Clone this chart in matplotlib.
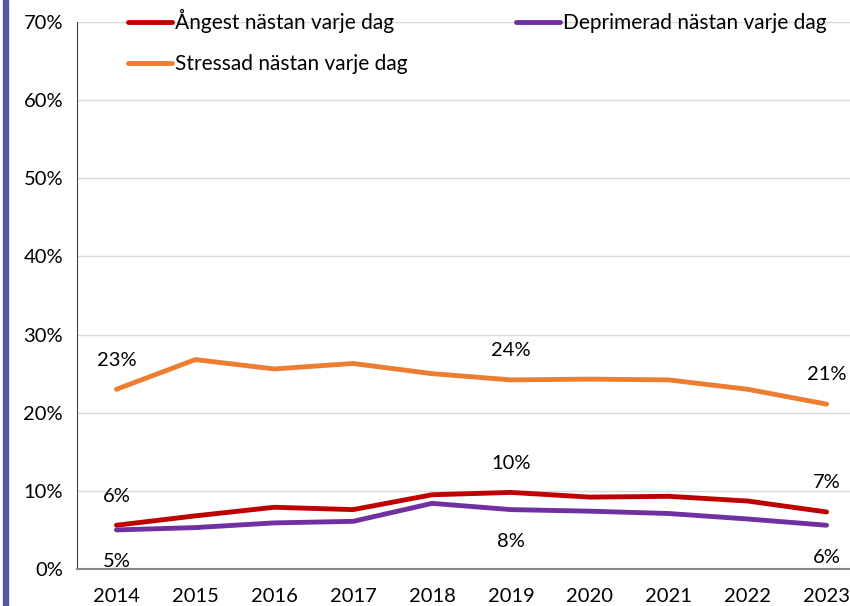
import matplotlib.pyplot as plt
from matplotlib.patches import Rectangle

# Data
years = ['2014', '2015', '2016', '2017', '2018', '2019', '2020', '2021', '2022', '2023']
angest = [5.6, 6.8, 7.9, 7.6, 9.5, 9.8, 9.2, 9.3, 8.7, 7.3]
deprimerad = [5.0, 5.3, 5.9, 6.1, 8.4, 7.6, 7.4, 7.1, 6.4, 5.6]
stressad = [23.0, 26.8, 25.6, 26.3, 25.0, 24.2, 24.3, 24.2, 23.0, 21.1]
labelled = [0, 5, 9]

plt.rcParams['font.family'] = ['Lato', 'DejaVu Sans']

fig = plt.figure(figsize=(8.5, 6.06), dpi=100)
ax = fig.add_axes([77 / 850, 37 / 606, 789 / 850, 547 / 606])

# Left decoration bar
fig.patches.append(Rectangle((3 / 850, 0), 5 / 850, 1, transform=fig.transFigure,
                             color='#5558a0', zorder=5))

x = range(len(years))
l1, = ax.plot(x, angest, color='#c00000', lw=3.5, solid_capstyle='round')
l2, = ax.plot(x, deprimerad, color='#7030a0', lw=3.5, solid_capstyle='round')
l3, = ax.plot(x, stressad, color='#ed7d31', lw=3.5, solid_capstyle='round')

# Data labels
for i in labelled:
    ax.annotate(f'{stressad[i]:.0f}%', (i, stressad[i]), xytext=(0, 21),
                textcoords='offset points', ha='center', va='center', fontsize=14.5)
    ax.annotate(f'{angest[i]:.0f}%', (i, angest[i]), xytext=(0, 21),
                textcoords='offset points', ha='center', va='center', fontsize=14.5)
    ax.annotate(f'{deprimerad[i]:.0f}%', (i, deprimerad[i]), xytext=(0, -23),
                textcoords='offset points', ha='center', va='center', fontsize=14.5)

ax.set_xlim(-0.5, len(years) - 0.5)
ax.set_ylim(0, 70)
ax.set_xticks(list(x))
ax.set_xticklabels(years)
ax.set_yticks(range(0, 71, 10))
ax.set_yticklabels([f'{v}%' for v in range(0, 71, 10)])
ax.tick_params(length=0, labelsize=14.5, pad=10)
ax.tick_params(axis='x', pad=14)
ax.grid(axis='y', color='#d9d9d9', lw=1)
ax.set_axisbelow(True)
for s in ['top', 'right']:
    ax.spines[s].set_visible(False)
ax.spines['left'].set_color('#404040')
ax.spines['bottom'].set_color('#888888')
ax.spines['bottom'].set_linewidth(1.5)

ax.legend([l1, l3, l2], ['Ångest nästan varje dag', 'Stressad nästan varje dag',
                         'Deprimerad nästan varje dag'],
          ncol=2, loc='upper left', bbox_to_anchor=(128 / 850, 1 - 9 / 606),
          bbox_transform=fig.transFigure, frameon=False, fontsize=15,
          handlelength=2.1, handletextpad=0.15, columnspacing=5.2,
          labelspacing=1.0, borderpad=0, borderaxespad=0)

fig.savefig('out.png', dpi=100)
